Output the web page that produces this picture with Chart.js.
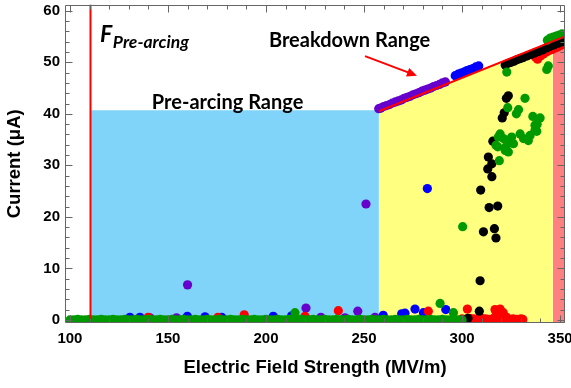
<!DOCTYPE html>
<html><head><meta charset="utf-8">
<script src="https://cdn.jsdelivr.net/npm/chart.js@4/dist/chart.umd.min.js"></script>
<style>html,body{margin:0;padding:0;background:#fff}#wrap{width:571px;height:388px;position:relative}</style>
</head><body><div id="wrap"><canvas id="c"></canvas></div>
<script>
// ---------- data ----------
const xTickLabels = [100, 150, 200, 250, 300, 350];
const yTickLabels = [0, 10, 20, 30, 40, 50, 60];

const fPreArcing = 110.5;           // MV/m, start of pre-arcing range
const breakdownStart = 257.6;       // MV/m
const breakdownEnd = 346.3;         // MV/m
const preArcingTop = 40.7;          // µA
const breakdownLine = [[257.6, 40.5], [352.5, 55.0]];

const greenPts = [
  [100,0],[102,0],[104,0.1],[106,0],[108,0],[110,0.1],[112,0],[114,0],[116,0.1],[118,0],
  [120,0],[122,0.1],[124,0],[126,0],[128,0.1],[130,0],[132,0],[134,0.1],[136,0],[138,0],
  [140,0.1],[142,0],[144,0],[146,0.1],[148,0],[150,0],[152,0.1],[154,0],[156,0],[158,0.1],
  [160,0],[162,0],[164,0.1],[166,0],[168,0],[170,0.1],[172,0],[174,0],[176,0.1],[178,0],
  [180,0],[182,0.1],[184,0],[186,0],[188,0.1],[190,0],[192,0],[194,0.1],[196,0],[198,0],
  [200,0.1],[202,0],[204,0],[206,0.1],[208,0],[210,0],[212,0.1],[214,0],[216,0],[218,0.1],
  [220,0],[222,0],[224,0.1],[226,0],[228,0],[230,0.1],[232,0],[234,0],[236,0.1],[238,0],
  [240,0],[242,0.1],[244,0],[246,0],[248,0.1],[250,0],[252,0],[254,0.1],[256,0],[258,0],
  [260,0.1],[262,0],[264,0],[266,0.1],[268,0],[270,0],[272,0.1],[274,0],[276,0],[278,0.1],
  [280,0],[282,0],[284,0.1],[286,0],[288,0],[290,0.1],[292,0],[294,0],[296,0.1],[298,0],[300,0],
  [214.8,1.4],[288.8,3.2],[295.6,1.4],[300.3,18.1],
  [317.3,33.9],[319.0,30.9],[319.4,36.1],[318.5,35.5],[318.2,33.6],[321.1,35.2],[322.0,32.9],
  [322.4,33.6],[323.6,32.6],[324.5,34.5],[325.3,35.5],[326.2,34.2],[329.6,36.1],[331.3,35.2],
  [333.8,34.8],[334.7,35.8],[337.2,36.8],[338.1,36.6],[337.2,37.8],[338.3,38.0],[336.1,39.5],
  [339.8,39.2],[327.7,40.0],[328.8,40.8],[323.3,41.2],[332.1,43.0],[322.8,48.1],[343.2,48.6],
  [344.0,49.3],[343.5,54.3],[345,54.7],[346.5,54.9],[348,55.1],[349.5,55.3],[351,55.5]
];
const redPts = [
  [300,0.2],[302,0.1],[304,0.3],[306,0.2],[308,0.1],[310,0.3],[312,0.2],[314,0.1],[316,0.3],
  [318,0.4],[320,0.2],[322,0.3],[324,0.1],[326,0.2],[328,0.1],[330,0.2],[331,0.1],
  [139.9,0.5],[175.5,0.5],[188.9,1.0],[219.9,0.7],[236.9,1.8],[282.8,1.7],[302.7,2.1],
  [316.8,2.0],[317.3,1.7],[319.4,2.1],[321.0,1.4],[322.8,0.5],
  [337.5,51.0],[338.5,50.6],[340,51.2],[341.5,51.6],[343,52.0],[344.5,52.3],[346,52.5],
  [347.5,52.8],[349,53.0],[350.5,53.3],[352,53.6]
];
const blackPts = [
  [303,0.3],[308.8,1.7],[309.2,7.6],[310.9,17.1],[316.5,17.7],[317.3,15.9],[313.8,21.8],
  [318.2,22.1],[309.5,25.2],[315.2,27.8],[313.1,29.3],[315.2,30.3],[313.4,31.6],[315.7,34.7],
  [320.5,39.2],[321.5,40.2],[322.6,43.0],[323.6,43.5],
  [322,49.5],[323.5,49.8],[325,50.0],[326.5,50.2],[328,50.5],[329.5,50.7],[331,50.9],
  [333,51.2],[335,51.5],[337,51.8],[339,52.1],[341,52.4],[343,52.8],[345,53.1],[347,53.4],
  [349,53.7],[351,54.0]
];
const bluePts = [
  [130.6,0.5],[135.7,0.5],[159.9,0.7],[168.9,0.6],[177.4,0.5],[203.7,0.7],[213.1,0.8],
  [259.8,0.9],[269.2,1.2],[270.9,1.3],[276,2.1],[280.3,1.4],[291.7,2.0],[282.3,25.5],
  [296.5,47.4],[298,47.7],[299.5,47.9],[301,48.1],[302.5,48.4],[304,48.6],[305.5,48.8],
  [307,49.1],[308.5,49.3]
];
const purplePts = [
  [140.8,0.4],[154.4,0.4],[160,6.8],[220.4,2.3],[228,0.5],[240.3,0.4],[246.8,1.7],[251,22.5],[255.6,0.5],
  [257.5,41.0],[258.5,41.1],[260,41.4],[261.5,41.6],[263,41.8],[264.5,42.1],[266,42.3],
  [267.5,42.5],[269,42.7],[270.5,43.0],[272,43.2],[273.5,43.4],[275,43.7],[276.5,43.9],
  [278,44.1],[279.5,44.4],[281,44.6],[282.5,44.8],[284,45.0],[285.5,45.3],[287,45.5],
  [288.5,45.7],[290,46.0],[291.5,46.2]
];

// ---------- helpers ----------
const toXY = arr => arr.map(p => ({x: p[0], y: p[1]}));
const X_MIN = 97.5, X_MAX = 352.5, Y_MIN = -0.6, Y_MAX = 61.2;
const lineY = x => breakdownLine[0][1] + (x - breakdownLine[0][0]) *
  (breakdownLine[1][1] - breakdownLine[0][1]) / (breakdownLine[1][0] - breakdownLine[0][0]);

function scatterSet(pts, color, order) {
  return {type: 'scatter', data: toXY(pts), pointRadius: 4.6, pointHoverRadius: 4.6,
    pointBorderWidth: 0, pointBackgroundColor: color, backgroundColor: color,
    borderColor: color, showLine: false, order: order};
}
function lineSet(pts, opts) {
  return Object.assign({type: 'line', data: toXY(pts), pointRadius: 0, pointHoverRadius: 0,
    borderWidth: 0, tension: 0, fill: false}, opts);
}

const datasets = [
  lineSet(breakdownLine, {borderColor: '#ff0000', borderWidth: 2, order: 0}),
  lineSet([[fPreArcing, Y_MIN], [fPreArcing, Y_MAX]], {borderColor: '#ff0000', borderWidth: 2, order: 0}),
  scatterSet(greenPts, '#009900', 1),
  scatterSet(blackPts, '#000000', 2),
  scatterSet(redPts, '#ff0000', 3),
  scatterSet(bluePts, '#0000ff', 4),
  scatterSet(purplePts, '#6600cc', 5),
  lineSet([[fPreArcing, preArcingTop], [breakdownStart, preArcingTop]],
    {fill: 'start', backgroundColor: '#80d4fa', order: 20}),
  lineSet([[breakdownStart, lineY(breakdownStart)], [breakdownEnd, lineY(breakdownEnd)]],
    {fill: 'start', backgroundColor: '#ffff80', order: 20}),
  lineSet([[breakdownEnd, lineY(breakdownEnd)], [X_MAX, lineY(X_MAX)]],
    {fill: 'start', backgroundColor: '#ff8080', order: 20})
];

// ---------- plugins ----------
const framePlugin = {
  id: 'frame',
  afterDatasetsDraw(chart) {
    const {ctx, chartArea: {left, right, top, bottom}, scales: {x, y}} = chart;
    ctx.save();
    ctx.strokeStyle = '#666';
    ctx.lineWidth = 1;
    ctx.beginPath();
    const seg = (a, b, c, d) => { ctx.moveTo(a, b); ctx.lineTo(c, d); };
    const L = Math.round(left) + 0.5, R = Math.round(right) - 0.5;
    const T = Math.round(top) + 0.5, B = Math.round(bottom) - 0.5;
    seg(L, T, L, B); seg(L, B, R, B); seg(R, B, R, T); seg(R, T, L, T);
    const xStep = (xTickLabels[1] - xTickLabels[0]) / 5;
    for (let v = xTickLabels[0]; v <= xTickLabels[xTickLabels.length - 1] + 1e-6; v += xStep) {
      const p = Math.round(x.getPixelForValue(v)) + 0.5;
      const len = xTickLabels.includes(Math.round(v)) ? 7 : 4;
      seg(p, B, p, B - len); seg(p, T, p, T + len);
    }
    const yStep = (yTickLabels[1] - yTickLabels[0]) / 5;
    for (let v = yTickLabels[0]; v <= yTickLabels[yTickLabels.length - 1] + 1e-6; v += yStep) {
      const p = Math.round(y.getPixelForValue(v)) + 0.5;
      const len = yTickLabels.includes(Math.round(v)) ? 7 : 4;
      seg(L, p, L + len, p); seg(R, p, R - len, p);
    }
    ctx.stroke();
    ctx.restore();
  }
};

const annotations = {
  arrowFrom: [250.5, 51.2], arrowTo: [277, 47.4],
  breakdown: {text: 'Breakdown Range', at: [201.5, 52.9]},
  preArcing: {text: 'Pre-arcing Range', at: [141.8, 41.0]},
  fLabel: {main: 'F', sub: 'Pre-arcing', at: [115.3, 53.9], subAt: [121.9, 52.75]}
};

const annotPlugin = {
  id: 'annot',
  afterDraw(chart) {
    const {ctx, scales: {x, y}} = chart;
    const px = v => x.getPixelForValue(v), py = v => y.getPixelForValue(v);
    ctx.save();
    // arrow
    const x1 = px(annotations.arrowFrom[0]), y1 = py(annotations.arrowFrom[1]);
    const x2 = px(annotations.arrowTo[0]), y2 = py(annotations.arrowTo[1]);
    const ang = Math.atan2(y2 - y1, x2 - x1);
    ctx.strokeStyle = '#ff0000'; ctx.fillStyle = '#ff0000'; ctx.lineWidth = 2;
    ctx.beginPath(); ctx.moveTo(x1, y1);
    ctx.lineTo(x2 - 6 * Math.cos(ang), y2 - 6 * Math.sin(ang)); ctx.stroke();
    ctx.beginPath();
    ctx.moveTo(x2, y2);
    ctx.lineTo(x2 - 10 * Math.cos(ang) + 4.5 * Math.sin(ang), y2 - 10 * Math.sin(ang) - 4.5 * Math.cos(ang));
    ctx.lineTo(x2 - 10 * Math.cos(ang) - 4.5 * Math.sin(ang), y2 - 10 * Math.sin(ang) + 4.5 * Math.cos(ang));
    ctx.closePath(); ctx.fill();
    // texts
    ctx.fillStyle = '#000';
    ctx.textBaseline = 'alphabetic'; ctx.textAlign = 'left';
    ctx.font = 'bold 20px Lato';
    ctx.fillText(annotations.breakdown.text, px(annotations.breakdown.at[0]), py(annotations.breakdown.at[1]));
    ctx.fillText(annotations.preArcing.text, px(annotations.preArcing.at[0]), py(annotations.preArcing.at[1]));
    ctx.font = 'italic bold 23px Lato';
    ctx.fillText(annotations.fLabel.main, px(annotations.fLabel.at[0]), py(annotations.fLabel.at[1]));
    ctx.font = 'italic bold 17.5px Lato';
    ctx.fillText(annotations.fLabel.sub, px(annotations.fLabel.subAt[0]), py(annotations.fLabel.subAt[1]));
    ctx.restore();
  }
};

const tickFont = {family: 'Liberation Sans', size: 15, weight: 'bold'};
const titleFont = {family: 'Liberation Sans', size: 18.5, weight: 'bold'};

new Chart(document.getElementById('c'), {
  type: 'scatter',
  data: {datasets},
  options: {
    responsive: true, maintainAspectRatio: false, animation: false,
    devicePixelRatio: 1,
    events: [],
    layout: {padding: {top: 1, right: 6, left: 0, bottom: 0}},
    plugins: {legend: {display: false}, tooltip: {enabled: false}},
    scales: {
      x: {
        type: 'linear', min: X_MIN, max: X_MAX,
        afterBuildTicks: s => { s.ticks = xTickLabels.map(v => ({value: v})); },
        afterFit: s => { s.height = 65; s.paddingLeft = 0; s.paddingRight = 0; },
        ticks: {font: tickFont, color: '#000', padding: 7, maxRotation: 0, autoSkip: false},
        grid: {display: false, drawTicks: false},
        border: {display: false},
        title: {display: true, text: 'Electric Field Strength (MV/m)', font: titleFont, color: '#000',
          padding: {top: 0, bottom: 9}}
      },
      y: {
        type: 'linear', min: Y_MIN, max: Y_MAX,
        afterBuildTicks: s => { s.ticks = yTickLabels.map(v => ({value: v})); },
        afterFit: s => { s.width = 65; s.paddingTop = 0; s.paddingBottom = 0; },
        ticks: {font: tickFont, color: '#000', padding: 5, autoSkip: false},
        grid: {display: false, drawTicks: false},
        border: {display: false},
        title: {display: true, text: 'Current (μA)', font: titleFont, color: '#000',
          padding: {top: 4, bottom: 0}}
      }
    }
  },
  plugins: [framePlugin, annotPlugin]
});
</script>
</body></html>
